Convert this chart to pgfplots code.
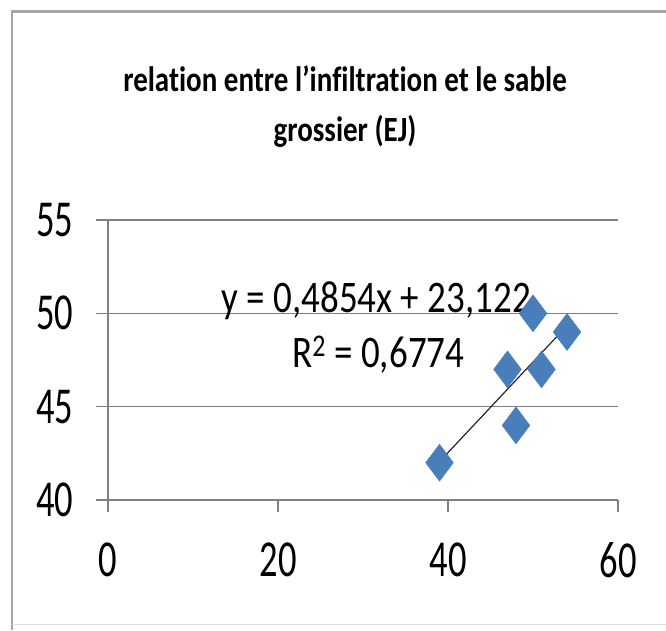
\documentclass[border=0pt]{standalone}
\usepackage{pgfplots}
\pgfplotsset{compat=1.18}
\usepackage{fontspec}
\setmainfont{Carlito}[Ligatures=NoCommon]
\definecolor{ptblue}{HTML}{4A7EBB}
\definecolor{gridgray}{HTML}{808080}
\newcommand{\st}[1]{\scalebox{1}[1.42]{#1}}
\newcommand{\se}[1]{\scalebox{1}[1.22]{#1}}
\begin{document}
\begin{tikzpicture}[x=1pt,y=1pt]
\path[use as bounding box] (0,0) rectangle (666,630);
\draw[gray!70, line width=3pt] (12,618) -- (666,618);
\draw[gray!70, line width=2pt] (12,619.5) -- (12,0);
\draw[gray!25, line width=1pt] (12,6) -- (666,6);
\node[font=\bfseries\fontsize{29}{32}\selectfont, anchor=base, inner sep=0pt] at (345,538) {\scalebox{1}[1.22]{relation entre l{\char"0027}infiltration et le sable}};
\node[font=\bfseries\fontsize{29}{32}\selectfont, anchor=base, inner sep=0pt] at (345,488) {\scalebox{1}[1.22]{grossier (EJ)}};
\begin{axis}[at={(108pt,130pt)}, anchor=south west, scale only axis,
  width=510pt, height=280pt,
  xmin=0, xmax=60, ymin=40, ymax=55,
  xtick={0,20,40,60}, xticklabels={\st{0},\st{20},\st{40},\st{60}},
  ytick={40,45,50,55}, yticklabels={\st{40},\st{45},\st{50},\st{55}},
  axis x line=bottom, axis y line=left,
  axis line style={-, draw=gridgray, line width=1.5pt},
  ymajorgrids, grid style={draw=gridgray, line width=1.5pt},
  tick style={draw=gridgray, line width=1.5pt},
  tick align=outside, major tick length=12pt,
  xticklabel style={font=\fontsize{36.5}{36.5}\selectfont, yshift=-27pt},
  yticklabel style={font=\fontsize{36.5}{36.5}\selectfont, xshift=-19pt},
  clip=false]
\addplot[only marks, mark=diamond*, mark size=18.5pt,
  mark options={fill=ptblue, draw=ptblue}]
  coordinates {(39,42) (47,47) (48,44) (50,50) (51,47) (54,49)};
\addplot[black!85, line width=1.2pt] coordinates {(39,42.053) (54,49.334)};
\node[font=\fontsize{37}{37}\selectfont, anchor=base, inner sep=0pt] at (axis cs:31.55,50.02) {\se{y = 0,4854x + 23,122}};
\node[font=\fontsize{37}{37}\selectfont, anchor=base, inner sep=0pt] at (axis cs:31.8,47.12) {\se{R\textsuperscript{2} = 0,6774}};
\end{axis}
\end{tikzpicture}
\end{document}
